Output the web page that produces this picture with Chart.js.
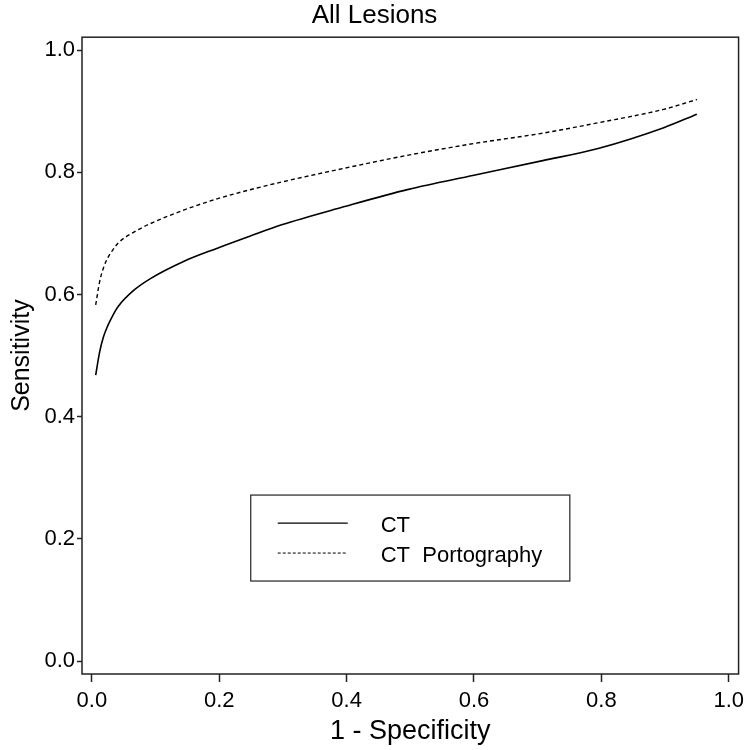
<!DOCTYPE html>
<html>
<head>
<meta charset="utf-8">
<script src="https://cdn.jsdelivr.net/npm/chart.js@4"></script>
<style>
  body { margin: 0; background: #fff; }
  canvas { display: block; }
</style>
</head>
<body>
<canvas id="roc" width="750" height="750"></canvas>
<script>
// ROC Kurven ablesen (1 - Spezifität / Sensitivität)
const fpr = [0.006, 0.012, 0.018, 0.025, 0.033, 0.041, 0.066, 0.092, 0.144, 0.195, 0.247, 0.298, 0.394, 0.497, 0.600, 0.708, 0.795, 0.898, 0.950];
const ctSens = [0.468, 0.505, 0.530, 0.549, 0.566, 0.580, 0.607, 0.626, 0.654, 0.675, 0.695, 0.714, 0.743, 0.772, 0.795, 0.819, 0.839, 0.873, 0.895];
const ctpSens = [0.583, 0.620, 0.643, 0.660, 0.673, 0.684, 0.702, 0.716, 0.738, 0.756, 0.771, 0.784, 0.806, 0.828, 0.847, 0.864, 0.881, 0.903, 0.919];
const seriesNames = ["CT", "CT  Portography"];
const tickVals = [0.0, 0.2, 0.4, 0.6, 0.8, 1.0];

const font = "'Liberation Sans', Arial, sans-serif";

function pts(xs, ys) {
    return xs.map((x, i) => ({ x: x, y: ys[i] }));
}

// Rahmen um den Plotbereich
const frame = {
    id: "frame",
    afterDraw(chart) {
        const a = chart.chartArea, c = chart.ctx;
        c.save();
        c.strokeStyle = "#222";
        c.lineWidth = 1.5;
        c.strokeRect(a.left, a.top, a.right - a.left, a.bottom - a.top);
        c.restore();
    }
};

// Legende im Plot (Kasten unten Mitte)
const boxLegend = {
    id: "boxLegend",
    afterDraw(chart) {
        const a = chart.chartArea, c = chart.ctx;
        const w = a.right - a.left, h = a.bottom - a.top;
        const x0 = a.left + w * 0.257, x1 = a.left + w * 0.743;
        const y0 = a.top + h * 0.719, y1 = a.top + h * 0.854;
        c.save();
        c.fillStyle = "#fff";
        c.fillRect(x0, y0, x1 - x0, y1 - y0);
        c.strokeStyle = "#222";
        c.lineWidth = 1.2;
        c.strokeRect(x0, y0, x1 - x0, y1 - y0);
        c.font = "22px " + font;
        c.textBaseline = "middle";
        chart.data.datasets.forEach((ds, i) => {
            const y = y0 + 28 + i * 30;
            c.beginPath();
            c.strokeStyle = "#000";
            c.lineWidth = i === 0 ? 1.3 : 1;
            c.setLineDash(i === 0 ? [] : [3, 2]);
            c.moveTo(x0 + 27, y);
            c.lineTo(x0 + 97, y);
            c.stroke();
            c.setLineDash([]);
            c.fillStyle = "#000";
            c.fillText(ds.label, x0 + 130, y + 3);
        });
        c.restore();
    }
};

const chart = new Chart(document.getElementById("roc"), {
    type: "line",
    data: {
        datasets: [{
            label: seriesNames[0],
            data: pts(fpr, ctSens),
            borderColor: "#000",
            borderWidth: 1.6,
            pointRadius: 0,
            cubicInterpolationMode: "monotone"
        }, {
            label: seriesNames[1],
            data: pts(fpr, ctpSens),
            borderColor: "#000",
            borderWidth: 1.4,
            borderDash: [4, 3],
            pointRadius: 0,
            cubicInterpolationMode: "monotone"
        }]
    },
    options: {
        responsive: false,
        animation: false,
        layout: { padding: { right: 1, top: 0 } },
        plugins: {
            legend: { display: false },
            tooltip: { enabled: false },
            title: {
                display: true,
                text: "All Lesions",
                color: "#000",
                font: { family: font, size: 26, weight: "normal" },
                padding: { top: 0, bottom: 6 }
            }
        },
        scales: {
            x: {
                type: "linear",
                min: -0.0155,
                max: 1.0155,
                afterFit(s) { s.height = 76; },
                afterBuildTicks(s) { s.ticks = tickVals.map(v => ({ value: v })); },
                grid: { drawOnChartArea: false, tickLength: 8, color: "#222", tickWidth: 1.5 },
                border: { display: false },
                ticks: {
                    color: "#000",
                    padding: 6,
                    font: { family: font, size: 22 },
                    callback: v => v.toFixed(1)
                },
                title: {
                    display: true,
                    text: "1 - Specificity",
                    color: "#000",
                    font: { family: font, size: 27 },
                    padding: { top: 0, bottom: 2 }
                }
            },
            y: {
                min: -0.021,
                max: 1.021,
                afterFit(s) { s.width = 82; },
                afterBuildTicks(s) { s.ticks = tickVals.map(v => ({ value: v })); },
                grid: { drawOnChartArea: false, tickLength: 5, color: "#222", tickWidth: 1.5 },
                border: { display: false },
                ticks: {
                    color: "#000",
                    padding: 2,
                    font: { family: font, size: 22 },
                    callback: v => v.toFixed(1)
                },
                title: {
                    display: true,
                    text: "Sensitivity",
                    color: "#000",
                    font: { family: font, size: 25 },
                    padding: { top: 7, bottom: 0 }
                }
            }
        }
    },
    plugins: [frame, boxLegend]
});
</script>
</body>
</html>
